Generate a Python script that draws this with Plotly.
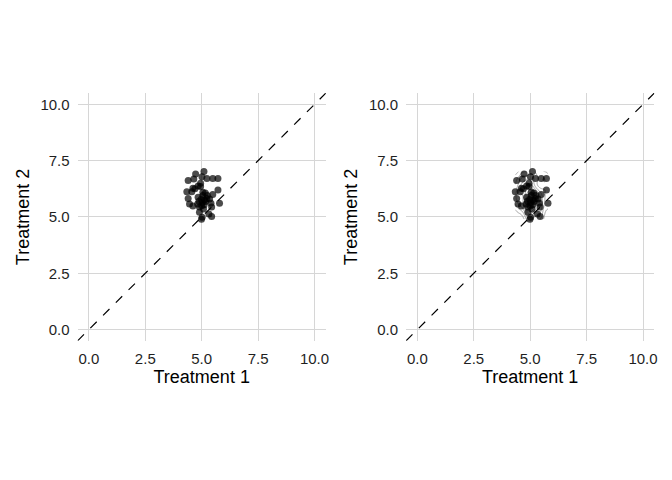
import numpy as np
import plotly.graph_objects as go

# Data
treatment1 = [5.10, 4.73, 4.40, 5.23, 5.49, 5.72, 5.01, 4.65, 4.61, 4.34,
              4.56, 4.84, 4.95, 5.05, 5.16, 5.72, 5.49, 4.40, 4.84, 4.98,
              5.23, 5.35, 4.46, 4.61, 4.82, 5.02, 5.11, 5.17, 5.41, 5.79,
              4.90, 5.08, 5.44, 4.90, 5.32, 5.44, 5.02, 4.99, 4.95, 5.05,
              5.12, 4.70, 5.25, 4.88, 5.00]
treatment2 = [7.02, 6.91, 6.62, 6.71, 6.71, 6.71, 6.79, 6.69, 6.28, 6.12,
              6.12, 6.38, 6.35, 6.10, 6.06, 6.20, 6.00, 5.82, 5.88, 5.79,
              5.82, 5.80, 5.58, 5.49, 5.58, 5.64, 5.54, 5.69, 5.61, 5.61,
              5.44, 5.35, 5.44, 5.21, 5.13, 5.02, 4.99, 4.90, 6.50, 5.95,
              5.75, 6.25, 5.95, 5.70, 5.50]
tick_vals = [0.0, 2.5, 5.0, 7.5, 10.0]
tick_text = ["0.0", "2.5", "5.0", "7.5", "10.0"]
axis_range = [-0.5, 10.5]

x = np.array(treatment1)
y = np.array(treatment2)

# 2D kernel density (as MASS::kde2d with bandwidth.nrd)
def bw_nrd(v):
    q = np.percentile(v, [25, 75])
    h = (q[1] - q[0]) / 1.34
    return 4 * 1.06 * min(np.std(v, ddof=1), h) * len(v) ** (-0.2)

hx, hy = bw_nrd(x) / 4, bw_nrd(y) / 4
gx = np.linspace(x.min(), x.max(), 100)
gy = np.linspace(y.min(), y.max(), 100)
ax = (gx[:, None] - x[None, :]) / hx
ay = (gy[:, None] - y[None, :]) / hy
kx = np.exp(-0.5 * ax ** 2) / np.sqrt(2 * np.pi)
ky = np.exp(-0.5 * ay ** 2) / np.sqrt(2 * np.pi)
z = (ky @ kx.T) / (len(x) * hx * hy)
zmax = float(z.max())

fig = go.Figure()

for i, (xa, ya) in enumerate([("x", "y"), ("x2", "y2")]):
    fig.add_trace(go.Scatter(x=axis_range, y=axis_range, mode="lines",
                             line=dict(color="black", width=1.2, dash="dash"),
                             xaxis=xa, yaxis=ya, showlegend=False, hoverinfo="skip"))
    if i == 1:
        fig.add_trace(go.Contour(x=gx, y=gy, z=z, xaxis=xa, yaxis=ya,
                                 contours=dict(coloring="lines", start=zmax / 12, end=zmax, size=zmax / 10),
                                 colorscale=[[0, "rgb(150,150,150)"], [1, "rgb(150,150,150)"]],
                                 line=dict(width=0.9, smoothing=1), showscale=False, hoverinfo="skip"))
    fig.add_trace(go.Scatter(x=treatment1, y=treatment2, mode="markers",
                             marker=dict(color="rgba(0,0,0,0.7)", size=7, line=dict(width=0)),
                             xaxis=xa, yaxis=ya, showlegend=False))

axis_common = dict(range=axis_range, tickvals=tick_vals, ticktext=tick_text,
                   showgrid=True, gridcolor="#D6D6D6", gridwidth=1.2, zeroline=False,
                   showline=False, ticks="outside", ticklen=4, tickcolor="rgba(0,0,0,0)",
                   tickfont=dict(family="Liberation Sans, Arial", size=15, color="#1f1f1f"),
                   title_font=dict(family="Liberation Sans, Arial", size=18, color="black"))

fig.update_layout(
    width=672, height=480, margin=dict(l=0, r=0, t=0, b=0),
    plot_bgcolor="white", paper_bgcolor="white",
    xaxis=dict(domain=[0.116, 0.487], anchor="y", title=dict(text="Treatment 1", standoff=2), **axis_common),
    yaxis=dict(domain=[0.290, 0.806], anchor="x", title=dict(text="Treatment 2", standoff=6), **axis_common),
    xaxis2=dict(domain=[0.607, 0.978], anchor="y2", title=dict(text="Treatment 1", standoff=2), **axis_common),
    yaxis2=dict(domain=[0.290, 0.806], anchor="x2", title=dict(text="Treatment 2", standoff=6), **axis_common),
)

fig.write_html("out.html")
